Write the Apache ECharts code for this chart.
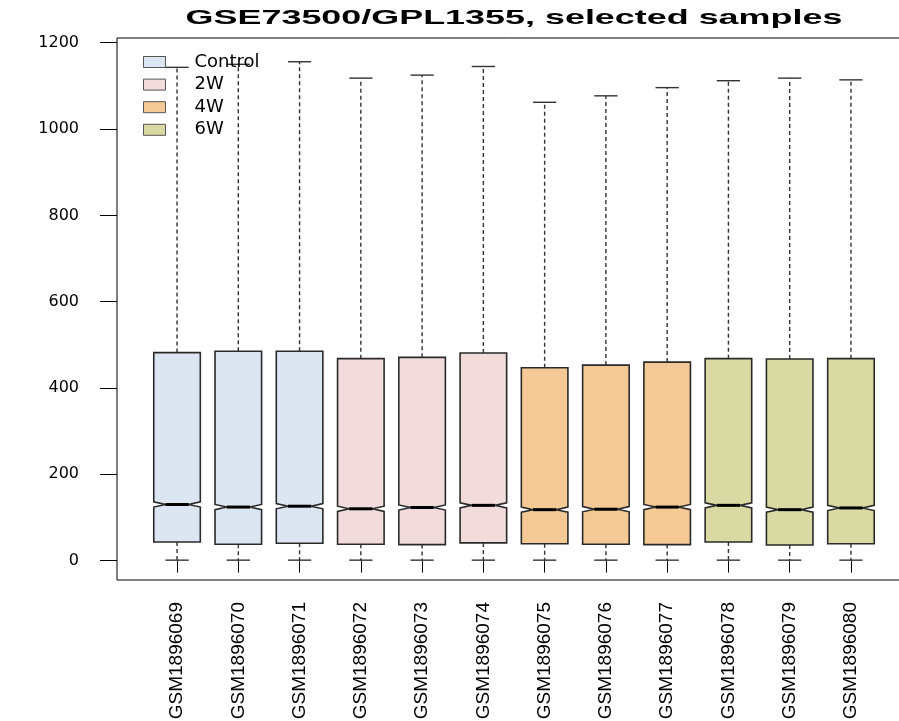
<!DOCTYPE html>
<html>
<head>
<meta charset="utf-8">
<style>
  html, body { margin: 0; padding: 0; background: #ffffff; }
  #chart { width: 899px; height: 721px; }
</style>
<script src="https://cdn.jsdelivr.net/npm/echarts@6/dist/echarts.min.js"></script>
</head>
<body>
<div id="chart"></div>
<script>
// ---- data ----
const titleText = 'GSE73500/GPL1355, selected samples';
const samples = ['GSM1896069','GSM1896070','GSM1896071','GSM1896072','GSM1896073','GSM1896074',
                 'GSM1896075','GSM1896076','GSM1896077','GSM1896078','GSM1896079','GSM1896080'];
const groups = ['Control', '2W', '4W', '6W'];
const sampleGroup = ['Control','Control','Control','2W','2W','2W','4W','4W','4W','6W','6W','6W'];
const whiskerLow  = [1, 1, 1, 1, 1, 1, 1, 1, 1, 1, 1, 1];
const q1          = [43, 38, 40, 38, 37, 41, 39, 38, 37, 43, 36, 39];
const median      = [130, 124, 126, 120, 123, 128, 118, 119, 124, 128, 118, 122];
const q3          = [482, 485, 485, 468, 471, 481, 447, 453, 460, 468, 467, 468];
const whiskerHigh = [1143, 1150, 1156, 1118, 1125, 1145, 1062, 1077, 1096, 1112, 1118, 1114];
const notchHalf   = [6, 6, 6, 6, 6, 6, 6, 6, 6, 6, 6, 6];
const yTicks = [0, 200, 400, 600, 800, 1000, 1200];
const xTicks = [1, 2, 3, 4, 5, 6, 7, 8, 9, 10, 11, 12];

// ---- styles ----
const groupColors = { 'Control': '#DCE6F2', '2W': '#F2DCDB', '4W': '#F4C996', '6W': '#D9D9A3' };

function renderBox(params, api) {
  const x = api.value(0), lo = api.value(1), a = api.value(2), m = api.value(3),
        b = api.value(4), hi = api.value(5), n = api.value(6);
  const W = 0.38, NF = 0.5, S = 0.19;
  const p = (dx, y) => api.coord([x + dx, y]);
  const pts = [p(-W, a), p(W, a), p(W, m - n), p(W * NF, m), p(W, m + n), p(W, b),
               p(-W, b), p(-W, m + n), p(-W * NF, m), p(-W, m - n)];
  const color = api.visual('color');
  const dash = { stroke: '#333', lineWidth: 1.4, lineDash: [4, 3] };
  const solid = { stroke: '#333', lineWidth: 1.4 };
  const seg = (p1, p2, style) => ({ type: 'line', shape: { x1: p1[0], y1: p1[1], x2: p2[0], y2: p2[1] }, style: style });
  return {
    type: 'group',
    children: [
      seg(p(0, b), p(0, hi), dash),
      seg(p(0, a), p(0, lo), dash),
      seg(p(-S, hi), p(S, hi), solid),
      seg(p(-S, lo), p(S, lo), solid),
      { type: 'polygon', shape: { points: pts }, style: { fill: color, stroke: '#2a2a2a', lineWidth: 1.6 } },
      seg(p(-W * NF, m), p(W * NF, m), { stroke: '#000', lineWidth: 3 })
    ]
  };
}

const series = groups.map(g => ({
  type: 'custom',
  name: g,
  renderItem: renderBox,
  itemStyle: { color: groupColors[g], borderColor: '#555', borderWidth: 1 },
  encode: { x: 0, y: [1, 2, 3, 4, 5] },
  data: samples.map((s, i) => sampleGroup[i] === g
      ? [i + 1, whiskerLow[i], q1[i], median[i], q3[i], whiskerHigh[i], notchHalf[i]] : null)
    .filter(d => d !== null)
}));

const chart = echarts.init(document.getElementById('chart'), null, { renderer: 'canvas' });
chart.setOption({
  backgroundColor: '#ffffff',
  animation: false,
  graphic: [{
    type: 'text',
    x: 514, y: 18,
    scaleX: 1.71,
    style: {
      text: titleText,
      x: 0, y: 0,
      textAlign: 'center', textVerticalAlign: 'middle',
      font: 'bold 21px "Liberation Sans", Arial, sans-serif',
      fill: '#000'
    }
  }],
  legend: {
    data: groups,
    orient: 'vertical',
    left: 138, top: 48,
    itemWidth: 22, itemHeight: 11,
    itemGap: 4.6,
    icon: 'rect',
    itemStyle: { borderColor: '#555', borderWidth: 1 },
    formatter: name => '{g| }{t|' + name + '}',
    textStyle: {
      fontFamily: 'DejaVu Sans', fontSize: 18, color: '#000',
      rich: {
        g: { width: 24, fontSize: 18 },
        t: { fontFamily: 'DejaVu Sans', fontSize: 18, color: '#000' }
      }
    }
  },
  grid: {
    left: 117, top: 38, bottom: 141, width: 794,
    outerBoundsMode: 'none',
    show: true, borderColor: '#000', borderWidth: 1, backgroundColor: 'transparent'
  },
  xAxis: {
    type: 'value',
    min: 0.02, max: 12.98,
    splitLine: { show: false },
    axisLine: { show: false },
    axisTick: { show: true, length: 12, customValues: xTicks, lineStyle: { color: '#000' } },
    axisLabel: {
      customValues: xTicks,
      rotate: 90,
      margin: 22,
      fontFamily: 'Liberation Sans', fontSize: 19, color: '#000',
      formatter: v => samples[Math.round(v) - 1]
    }
  },
  yAxis: {
    type: 'value',
    min: -45, max: 1211,
    splitLine: { show: false },
    axisLine: { show: false },
    axisTick: { show: true, length: 17, customValues: yTicks, lineStyle: { color: '#000' } },
    axisLabel: {
      customValues: yTicks,
      margin: 38,
      fontFamily: 'DejaVu Sans', fontSize: 16, color: '#000',
      formatter: v => String(v)
    }
  },
  series: series
});
</script>
</body>
</html>
